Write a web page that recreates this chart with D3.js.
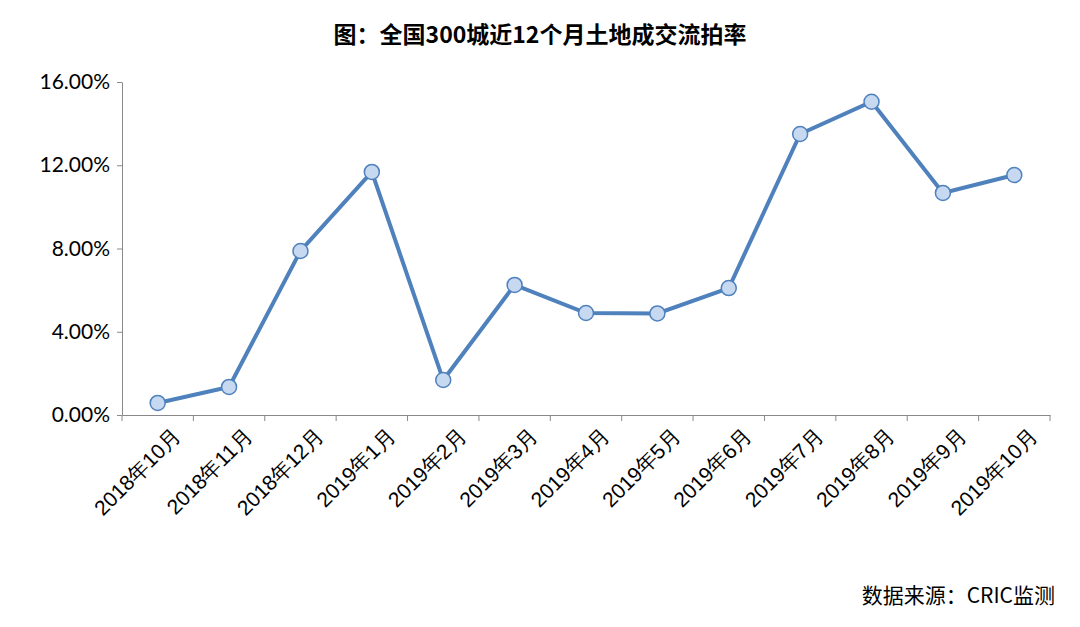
<!DOCTYPE html>
<html><head><meta charset="utf-8">
<script src="https://cdn.jsdelivr.net/npm/d3@7"></script>
<style>body{margin:0;background:#fff}svg{font-family:"Noto Sans CJK SC","Noto Sans",sans-serif}</style>
</head><body><svg id="c" width="1080" height="627"></svg>
<script>
const categories=["2018年10月","2018年11月","2018年12月","2019年1月","2019年2月","2019年3月","2019年4月","2019年5月","2019年6月","2019年7月","2019年8月","2019年9月","2019年10月"];
const values=[0.58,1.35,7.88,11.68,1.68,6.25,4.9,4.88,6.1,13.5,15.05,10.67,11.53];
const yTicks=[0,4,8,12,16];
const svg=d3.select("#c");
const x=d3.scaleBand().domain(categories).range([122,1050]);
const y=d3.scaleLinear().domain([0,16]).range([415,82]);
svg.append("text").attr("x",540).attr("y",43).attr("text-anchor","middle").attr("font-size",23).attr("font-weight","bold").text("图：全国300城近12个月土地成交流拍率");
const ya=svg.append("g").attr("transform","translate(122,0)").call(d3.axisLeft(y).tickValues(yTicks).tickFormat(d=>d.toFixed(2)+"%").tickSize(5).tickSizeOuter(0));
ya.selectAll("text").attr("font-size",21).attr("fill","#000").attr("dx",-4).attr("font-family","Lato,sans-serif");
ya.select(".domain").attr("stroke","#888");ya.selectAll("line").attr("stroke","#888");
const xa=svg.append("g").attr("transform","translate(0,415)").call(d3.axisBottom(x).tickSize(0).tickSizeOuter(0));
xa.select(".domain").attr("stroke","#888");
const tk=[...categories.map(c=>x(c)),1050];
svg.selectAll(".tk").data(tk).enter().append("line").attr("x1",d=>d).attr("x2",d=>d).attr("y1",415).attr("y2",421).attr("stroke","#888");
xa.selectAll("text").attr("font-size",21).attr("fill","#000").attr("text-anchor","end").attr("transform","translate(12,10) rotate(-45)").attr("dy","0.7em");
const line=d3.line().x((d,i)=>x(categories[i])+x.bandwidth()/2).y(d=>y(d));
svg.append("path").datum(values).attr("d",line).attr("fill","none").attr("stroke","#4f81bd").attr("stroke-width",4);
svg.selectAll(".pt").data(values).enter().append("circle").attr("cx",(d,i)=>x(categories[i])+x.bandwidth()/2).attr("cy",d=>y(d)).attr("r",7.5).attr("fill","#c6d9f1").attr("stroke","#4f81bd").attr("stroke-width",1.5);
svg.append("text").attr("x",1055).attr("y",603).attr("text-anchor","end").attr("font-size",21).text("数据来源：CRIC监测");
</script></body></html>
